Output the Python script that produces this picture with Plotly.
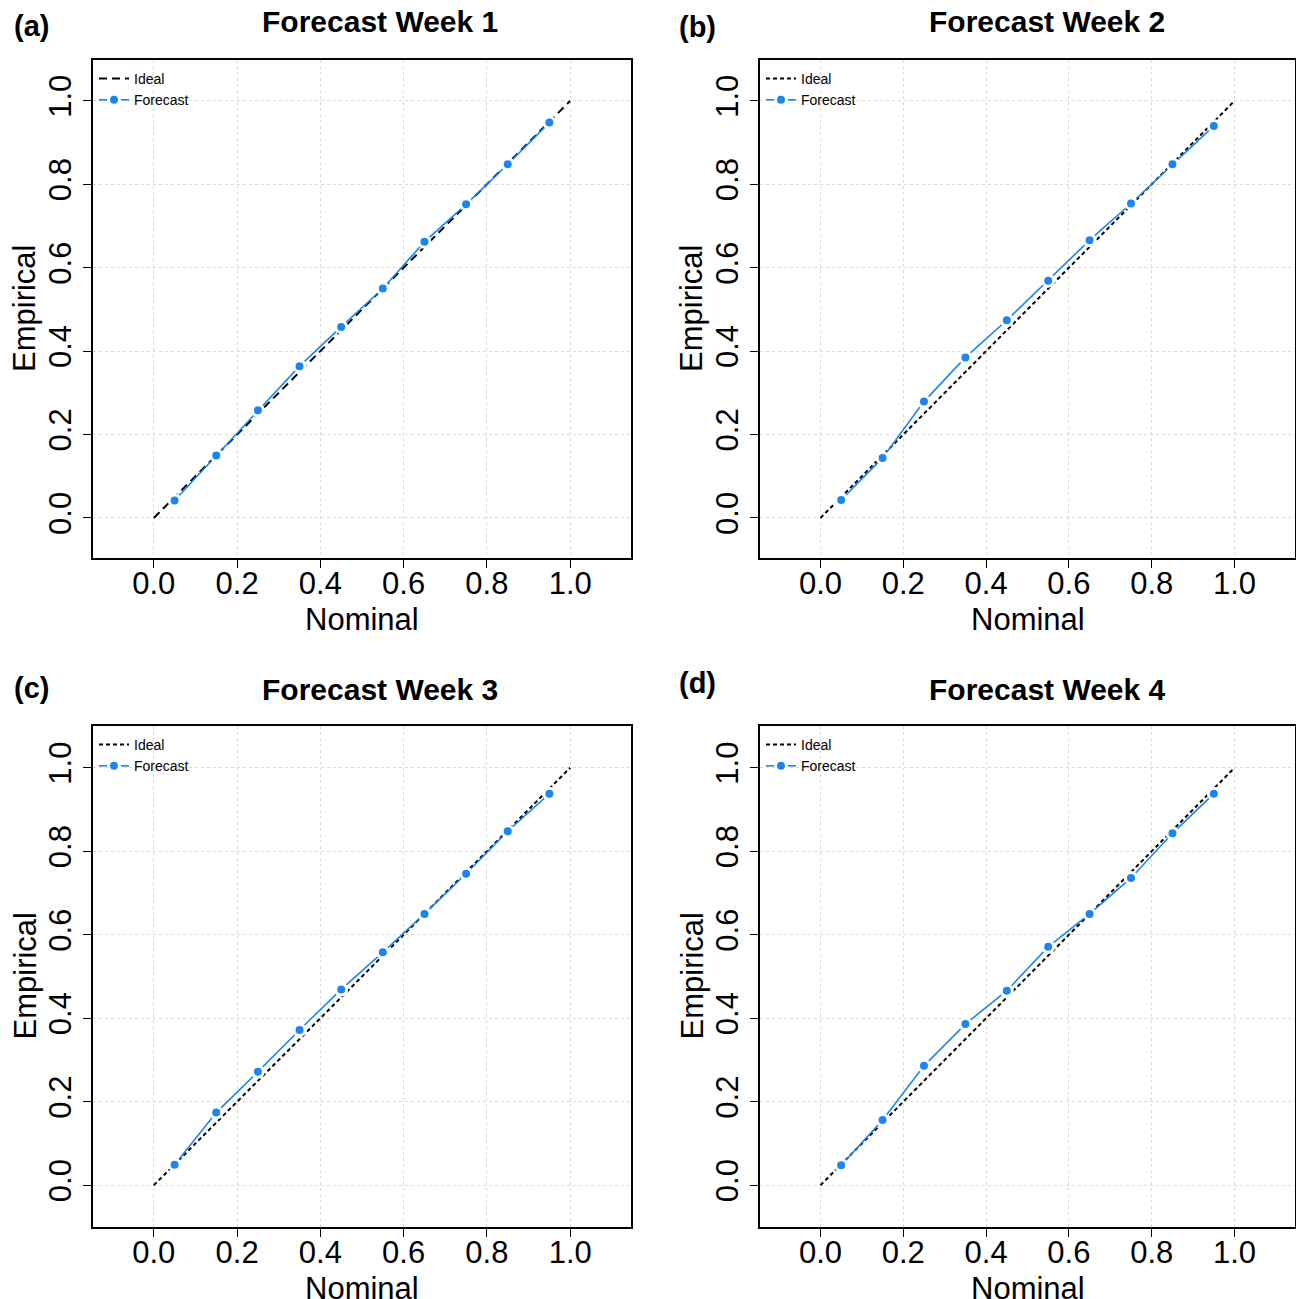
import plotly.graph_objects as go

# ---------------- data ----------------
nominal = [0.05, 0.15, 0.25, 0.35, 0.45, 0.55, 0.65, 0.75, 0.85, 0.95]
week1 = [0.042, 0.150, 0.258, 0.364, 0.458, 0.550, 0.662, 0.752, 0.848, 0.948]
week2 = [0.043, 0.144, 0.279, 0.385, 0.474, 0.569, 0.666, 0.754, 0.848, 0.940]
week3 = [0.049, 0.174, 0.272, 0.372, 0.469, 0.558, 0.650, 0.746, 0.848, 0.938]
week4 = [0.048, 0.156, 0.286, 0.386, 0.466, 0.571, 0.650, 0.736, 0.843, 0.938]
ideal_x = [0.0, 1.0]
ideal_y = [0.0, 1.0]
titles = ["Forecast Week 1", "Forecast Week 2", "Forecast Week 3", "Forecast Week 4"]
panel_labels = ["(a)", "(b)", "(c)", "(d)"]
tick_vals = [0.0, 0.2, 0.4, 0.6, 0.8, 1.0]
tick_text = ["0.0", "0.2", "0.4", "0.6", "0.8", "1.0"]
series = [week1, week2, week3, week4]

# ---------------- layout geometry (pixels) ----------------
W, H = 1296, 1299
FONT = "Liberation Sans, Arial, sans-serif"
BLUE = "#1C86EE"

# plot boxes: (left, right, top, bottom) in pixels
boxes = [(93, 631, 60, 558), (760, 1295, 60, 558),
         (93, 631, 726, 1227), (760, 1295, 726, 1227)]
ideal_dash = ["8px,5px", "4px,3px", "4px,3px", "4px,3px"]
title_pos = [(380, 22), (1047, 22), (380, 690), (1047, 690)]
label_pos = [(31, 26), (697, 27), (31, 688), (697, 683)]

def px(x):
    return x / W

def py(y):
    return 1 - y / H

fig = go.Figure()
annotations = []
layout_axes = {}

for i in range(4):
    l, r, t, b = boxes[i]
    n = "" if i == 0 else str(i + 1)
    xa, ya = "x" + n, "y" + n
    leg = "legend" + n

    fig.add_trace(go.Scatter(
        x=ideal_x, y=ideal_y, mode="lines", name="Ideal",
        line=dict(color="black", width=2, dash=ideal_dash[i]),
        xaxis=xa, yaxis=ya, legend=leg, showlegend=True))
    fig.add_trace(go.Scatter(
        x=nominal, y=series[i], mode="lines+markers", name="Forecast",
        line=dict(color=BLUE, width=1.6),
        marker=dict(color=BLUE, size=11, line=dict(color="white", width=3)),
        xaxis=xa, yaxis=ya, legend=leg, showlegend=True))

    common = dict(
        tickvals=tick_vals, ticktext=tick_text,
        ticks="outside", ticklen=8, tickwidth=1.3, tickcolor="black",
        showline=True, linecolor="black", linewidth=1.6, mirror=True,
        showgrid=True, gridcolor="#dadada", griddash="dot", gridwidth=1,
        zeroline=False,
        tickfont=dict(family=FONT, size=31, color="black"),
    )
    layout_axes["xaxis" + n] = dict(
        common, domain=[px(l), px(r)], range=[-0.146, 1.146],
        anchor=ya, ticklabelstandoff=-11)
    yr = [-0.096, 1.098] if i < 2 else [-0.1, 1.1]
    layout_axes["yaxis" + n] = dict(
        common, domain=[py(b), py(t)], range=yr, anchor=xa,
        tickangle=-90, ticklabelstandoff=0)

    layout_axes[leg] = dict(
        x=px(l + 5), y=py(t + 3), xanchor="left", yanchor="top",
        bgcolor="rgba(0,0,0,0)", borderwidth=0,
        font=dict(family=FONT, size=14, color="black"),
        itemwidth=30, tracegroupgap=0, traceorder="normal",
        indentation=-4,
    )

    # title
    tx, ty = title_pos[i]
    annotations.append(dict(
        x=px(tx), y=py(ty), xref="paper", yref="paper", showarrow=False,
        text="<b>" + titles[i] + "</b>", xanchor="center", yanchor="middle",
        font=dict(family=FONT, size=30, color="black")))
    # panel label
    lx, ly = label_pos[i]
    annotations.append(dict(
        x=px(lx), y=py(ly), xref="paper", yref="paper", showarrow=False,
        text="<b>" + panel_labels[i] + "</b>", xanchor="center", yanchor="middle",
        font=dict(family=FONT, size=29, color="black")))
    # axis titles
    annotations.append(dict(
        x=px((l + r) / 2), y=py(b + 61), xref="paper", yref="paper",
        showarrow=False, text="Nominal", xanchor="center", yanchor="middle",
        font=dict(family=FONT, size=31, color="black")))
    annotations.append(dict(
        x=px(l - 68), y=py((t + b) / 2), xref="paper", yref="paper",
        showarrow=False, text="Empirical", textangle=-90,
        xanchor="center", yanchor="middle",
        font=dict(family=FONT, size=31, color="black")))

fig.update_layout(
    width=W, height=H,
    margin=dict(l=0, r=0, t=0, b=0),
    paper_bgcolor="white", plot_bgcolor="white",
    annotations=annotations,
    **layout_axes,
)

fig.write_html("out.html")
